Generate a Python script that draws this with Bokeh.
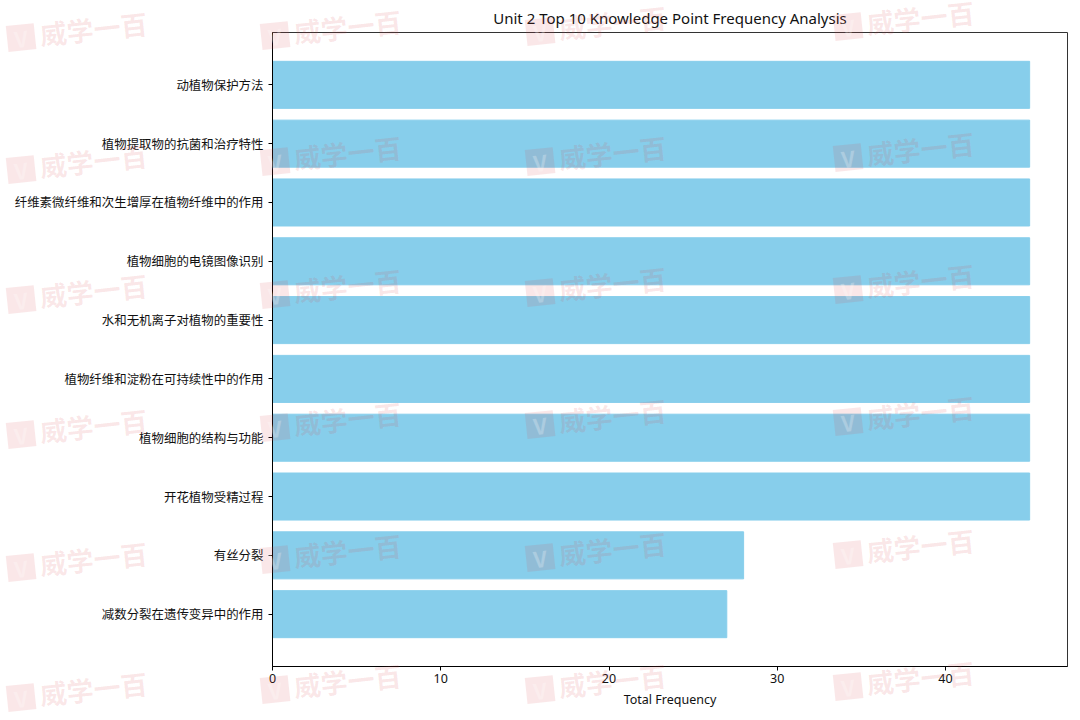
from bokeh.plotting import figure
from bokeh.layouts import column
from bokeh.models import Div, FactorRange, Range1d
from bokeh.embed import file_html
from bokeh.resources import INLINE

knowledge_points = [
    "动植物保护方法",
    "植物提取物的抗菌和治疗特性",
    "纤维素微纤维和次生增厚在植物纤维中的作用",
    "植物细胞的电镜图像识别",
    "水和无机离子对植物的重要性",
    "植物纤维和淀粉在可持续性中的作用",
    "植物细胞的结构与功能",
    "开花植物受精过程",
    "有丝分裂",
    "减数分裂在遗传变异中的作用",
]
total_frequency = [45, 45, 45, 45, 45, 45, 45, 45, 28, 27]
x_ticks = [0, 10, 20, 30, 40]

title_text = "Unit 2 Top 10 Knowledge Point Frequency Analysis"
x_label = "Total Frequency"
watermark_text = "威学一百"

# page pixels of the stamps, Labels get clipped to the frame so these go in a Div
watermark_columns = [2, 256, 521, 829]
watermark_rows = [
    [687, 557, 424, 289, 159, 27],
    [679, 549, 417, 284, 151, 25],
    [679, 547, 414, 282, 151, 21],
    [676, 544, 411, 279, 147, 16],
]

p = figure(
    width=1072, height=712,
    y_range=FactorRange(factors=knowledge_points[::-1], range_padding=0.078),
    x_range=Range1d(0, 47.25),
    output_backend="svg", toolbar_location=None,
    min_border_left=272, min_border_right=5, min_border_top=32, min_border_bottom=46,
)
p.hbar(y=knowledge_points, right=total_frequency, left=0, height=0.8, color="#87CEEB")

p.title.text = title_text
p.title.align = "center"
p.title.text_font = "Noto Sans"
p.title.text_font_size = "15px"
p.title.text_font_style = "normal"
p.title.text_color = "#111111"
p.title.standoff = 9

p.xgrid.visible = False
p.ygrid.visible = False
p.outline_line_color = "#333333"
p.outline_line_width = 1
p.background_fill_color = "white"

p.xaxis.ticker = x_ticks
p.xaxis.axis_label = x_label
p.xaxis.axis_label_text_font = "Noto Sans"
p.xaxis.axis_label_text_font_size = "12.5px"
p.xaxis.axis_label_text_font_style = "normal"
p.xaxis.axis_label_text_color = "#111111"
p.xaxis.axis_label_standoff = 5
p.xaxis.major_label_text_font = "Noto Sans"
p.xaxis.major_label_text_font_size = "12.5px"
p.xaxis.major_label_standoff = 3

p.yaxis.major_label_text_font = "Noto Sans CJK SC"
p.yaxis.major_label_text_font_size = "12.45px"
p.yaxis.major_label_standoff = 5

for ax in (p.xaxis, p.yaxis):
    ax.axis_line_color = "black"
    ax.major_tick_line_color = "black"
    ax.major_tick_out = 4
    ax.major_tick_in = 0
    ax.minor_tick_line_color = None
    ax.major_label_text_color = "#111111"

stamps = ""
for col, col_x in enumerate(watermark_columns):
    for row_y in watermark_rows[col]:
        stamps += (
            f'<span style="position:absolute;left:{col_x}px;top:{row_y - 14}px;'
            'line-height:28px;white-space:nowrap;font:bold 27px \'Noto Sans CJK SC\';'
            'color:rgba(217,69,74,0.13);transform:rotate(-6deg);transform-origin:left center;">'
            '<span style="display:inline-block;width:28px;height:26px;margin-right:5px;'
            'background:rgba(217,69,74,0.13);color:rgba(255,255,255,0.25);'
            'font-size:22px;line-height:26px;text-align:center;">V</span>'
            f'{watermark_text}</span>'
        )

overlay = Div(
    text=stamps, width=1072, height=0,
    styles={"position": "absolute", "left": "0", "top": "0", "z-index": "10", "pointer-events": "none"},
)

layout = column(overlay, p)
open("out.html", "w").write(file_html(layout, INLINE))
